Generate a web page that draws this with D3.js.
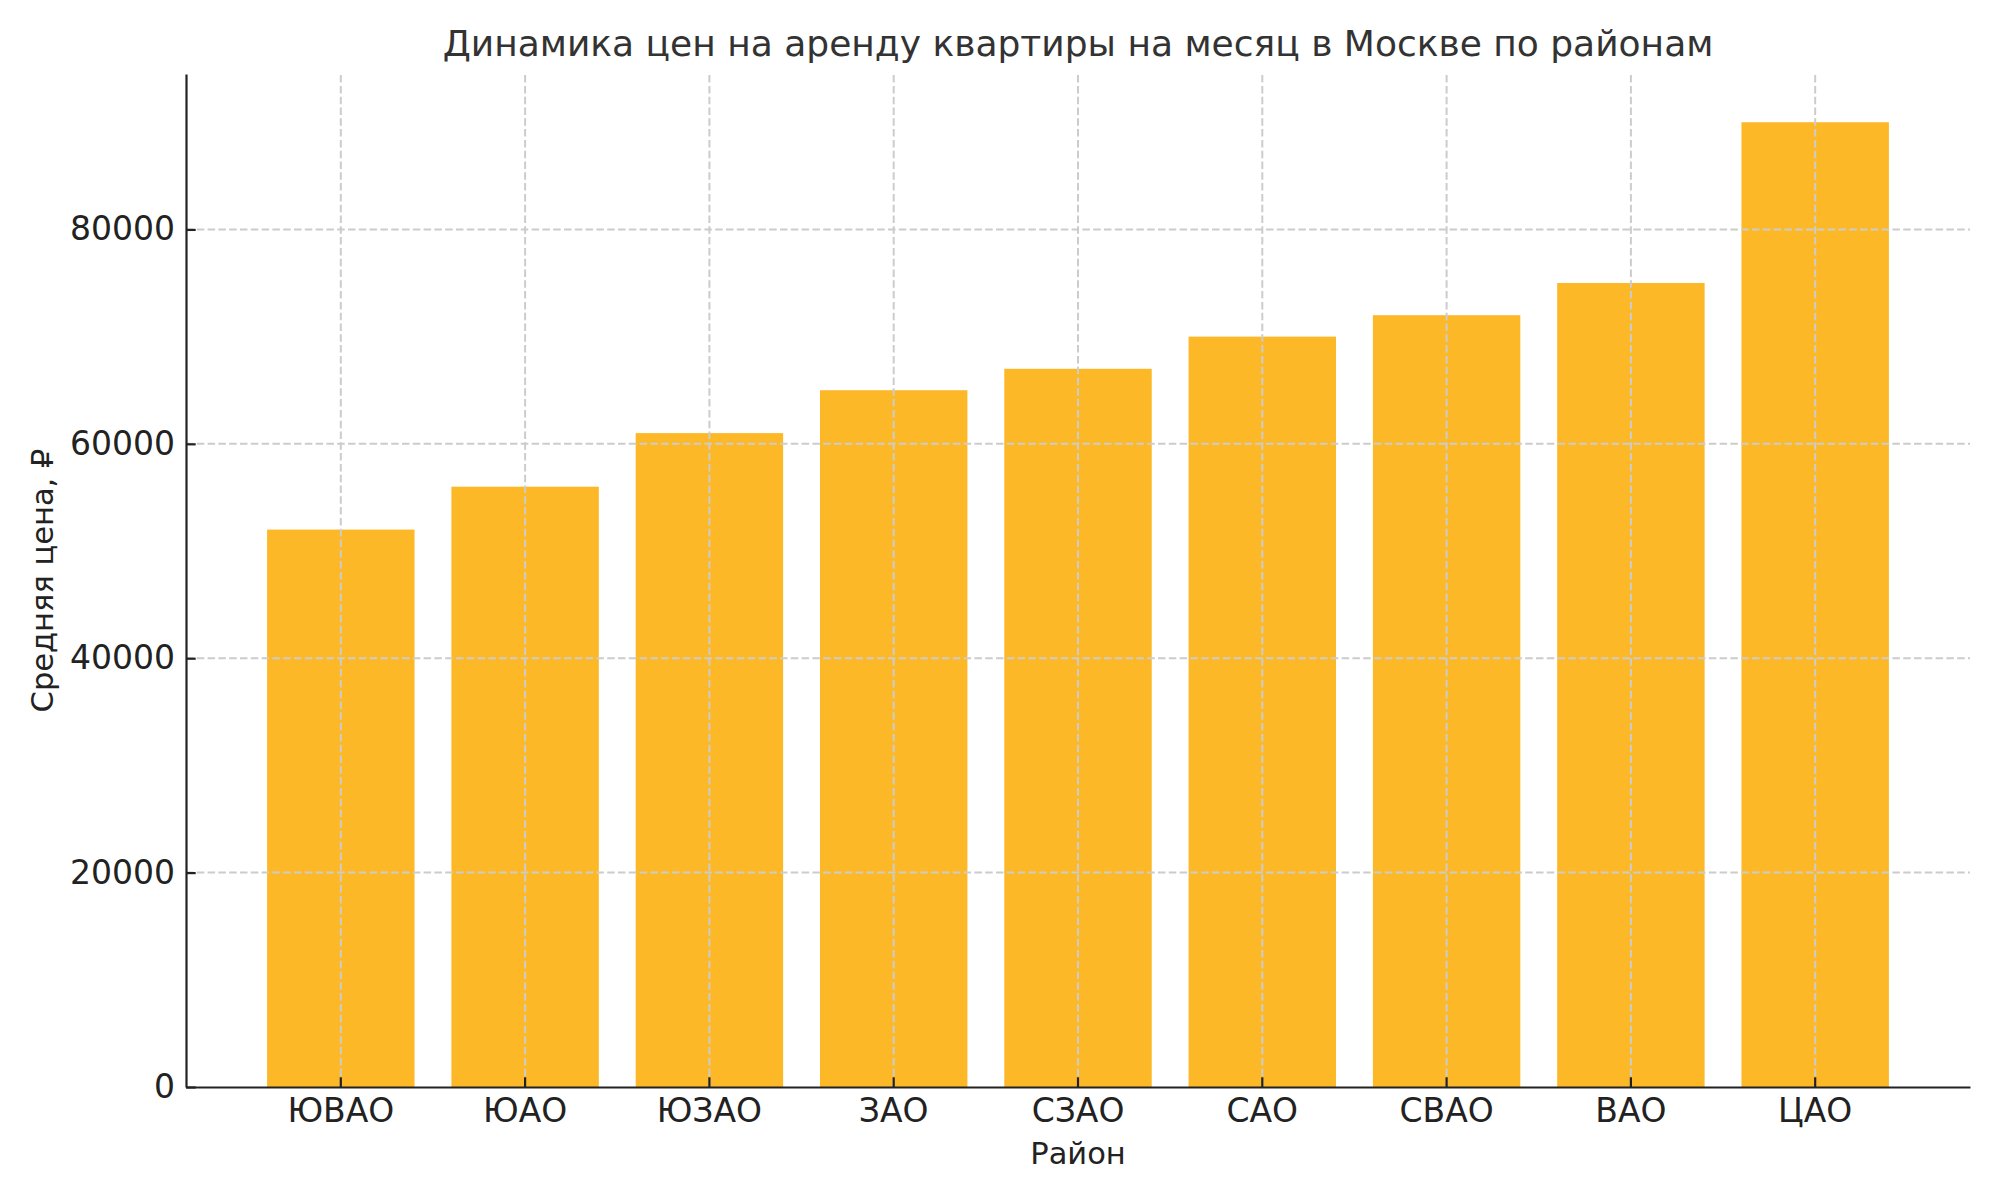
<!DOCTYPE html>
<html>
<head>
<meta charset="utf-8">
<script src="https://cdn.jsdelivr.net/npm/d3@7"></script>
<style>
  body { margin: 0; background: #fff; }
  text { font-family: "DejaVu Sans", sans-serif; }
</style>
</head>
<body>
<div id="chart"></div>
<script>
// Data
const districts = ["ЮВАО", "ЮАО", "ЮЗАО", "ЗАО", "СЗАО", "САО", "СВАО", "ВАО", "ЦАО"];
const prices = [52000, 56000, 61000, 65000, 67000, 70000, 72000, 75000, 90000];
const yTicks = [0, 20000, 40000, 60000, 80000];

const title = "Динамика цен на аренду квартиры на месяц в Москве по районам";
const xTitle = "Район";
const yTitle = "Средняя цена, ₽";

const width = 2000, height = 1200;
const margin = {top: 74, right: 30, bottom: 113, left: 186};

const svg = d3.select("#chart").append("svg")
  .attr("width", width)
  .attr("height", height);

const x = d3.scaleBand()
  .domain(districts)
  .range([margin.left, width - margin.right])
  .paddingInner(0.2)
  .paddingOuter(0.44);

const y = d3.scaleLinear()
  .domain([0, d3.max(prices) * 1.05])
  .range([height - margin.bottom, margin.top]);

// bars
svg.append("g").selectAll("rect")
  .data(districts)
  .enter().append("rect")
  .attr("x", d => x(d))
  .attr("y", (d, i) => y(prices[i]))
  .attr("width", x.bandwidth())
  .attr("height", (d, i) => y(0) - y(prices[i]))
  .attr("fill", "#fdb827");

// grid (drawn over bars)
const grid = svg.append("g")
  .attr("stroke", "#cccccc")
  .attr("stroke-width", 2)
  .attr("stroke-dasharray", "7.5,3.3");
grid.selectAll("line.v")
  .data(districts)
  .enter().append("line")
  .attr("class", "v")
  .attr("x1", d => x(d) + x.bandwidth() / 2)
  .attr("x2", d => x(d) + x.bandwidth() / 2)
  .attr("y1", y.range()[0])
  .attr("y2", y.range()[1]);
grid.selectAll("line.h")
  .data(yTicks.slice(1))
  .enter().append("line")
  .attr("class", "h")
  .attr("x1", margin.left)
  .attr("x2", width - margin.right)
  .attr("y1", d => y(d))
  .attr("y2", d => y(d));

// axes
const xAxis = svg.append("g")
  .attr("transform", `translate(0,${height - margin.bottom})`)
  .call(d3.axisBottom(x).tickSizeInner(-9.7).tickSizeOuter(0).tickPadding(12));

const yAxis = svg.append("g")
  .attr("transform", `translate(${margin.left},0)`)
  .call(d3.axisLeft(y).tickValues(yTicks).tickFormat(d3.format("d"))
    .tickSizeInner(-9.7).tickSizeOuter(0).tickPadding(11));

for (let ax of [xAxis, yAxis]) {
  ax.attr("font-family", null).attr("font-size", null);
  ax.select(".domain").attr("stroke", "#222").attr("stroke-width", 2.2);
  ax.selectAll(".tick line").attr("stroke", "#222").attr("stroke-width", 2.2);
  ax.selectAll(".tick text")
    .attr("fill", "#222")
    .style("font-size", "33px");
}

// labels
svg.append("text")
  .attr("x", (margin.left + width - margin.right) / 2)
  .attr("y", 56)
  .attr("text-anchor", "middle")
  .attr("fill", "#333")
  .style("font-size", "36px")
  .text(title);

svg.append("text")
  .attr("x", (margin.left + width - margin.right) / 2)
  .attr("y", 1164)
  .attr("text-anchor", "middle")
  .attr("fill", "#222")
  .style("font-size", "30.5px")
  .text(xTitle);

svg.append("text")
  .attr("transform", `translate(53,${(margin.top + height - margin.bottom) / 2}) rotate(-90)`)
  .attr("text-anchor", "middle")
  .attr("fill", "#222")
  .style("font-size", "30.5px")
  .text(yTitle);
</script>
</body>
</html>
